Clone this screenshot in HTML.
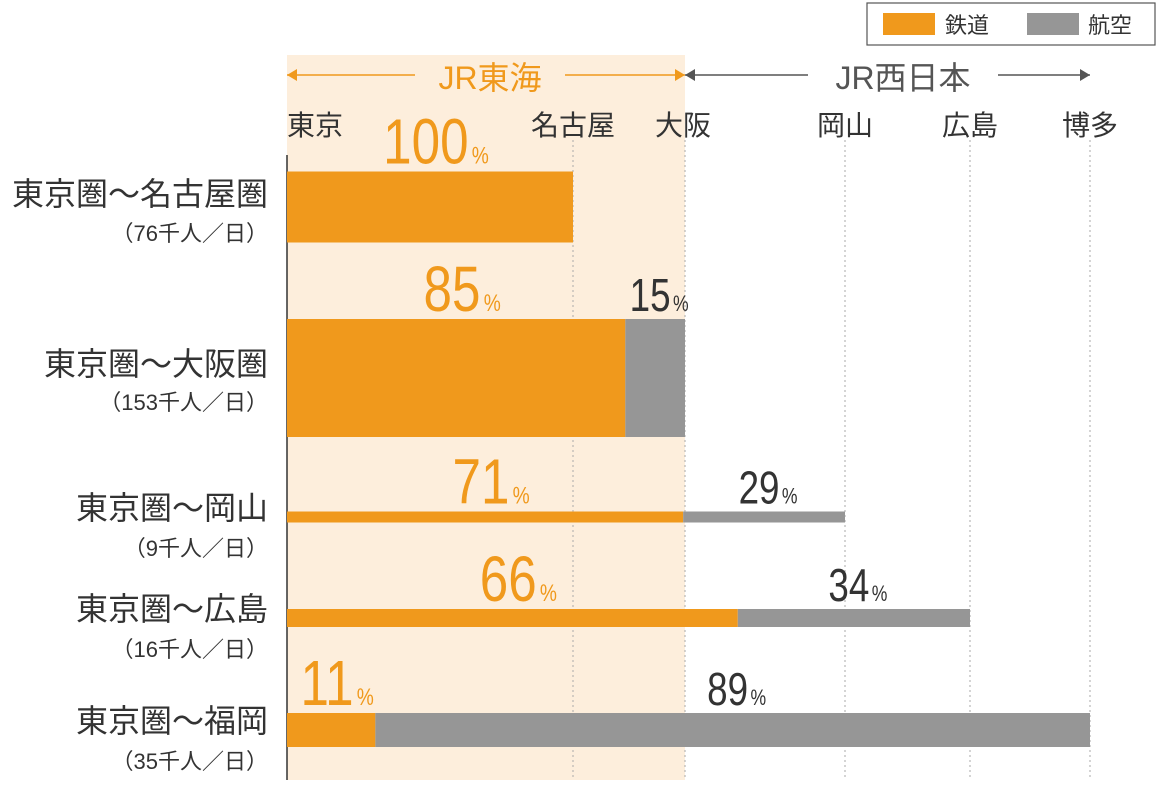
<!DOCTYPE html>
<html><head><meta charset="utf-8"><style>
body{margin:0;width:1160px;height:780px;background:#fff;overflow:hidden;font-family:"Liberation Sans","Noto Sans CJK JP",sans-serif}
svg text{font-family:"Liberation Sans","Noto Sans CJK JP",sans-serif}
</style></head><body>
<svg id="c" width="1160" height="780">
<rect x="287" y="55" width="398" height="725" fill="#fdeedc"/>
<g id="grid"></g>
<line x1="287" y1="155" x2="287" y2="780" stroke="#333" stroke-width="1.5"/>
<g id="hdr"></g>
<g id="bars"></g>
<g>
<rect x="867" y="3" width="288" height="42" fill="#fff" stroke="#555" stroke-width="1.2"/>
<rect x="883" y="13" width="52" height="22" fill="#f0991c"/>
<text x="945" y="33" font-size="22" fill="#333">鉄道</text>
<rect x="1027" y="13" width="52" height="22" fill="#969696"/>
<text x="1088" y="33" font-size="22" fill="#333">航空</text>
</g>
</svg>
<script>
const stations=["東京","名古屋","大阪","岡山","広島","博多"];
const stationX=[287,573,685,845,970,1090];
const routes=["東京圏〜名古屋圏","東京圏〜大阪圏","東京圏〜岡山","東京圏〜広島","東京圏〜福岡"];
const traffic=["76","153","9","16","35"];
const dest=[1,2,3,4,5];
const rail=[100,85,71,66,11];
const air=[0,15,29,34,89];
const centers=[207,378,517,618,730];
const thick=[71,118,11,18,34];
const NS="http://www.w3.org/2000/svg";
const svg=document.getElementById('c');
function mk(tag,attrs,parent,txt){const e=document.createElementNS(NS,tag);for(const k in attrs)e.setAttribute(k,attrs[k]);if(txt!==undefined)e.textContent=txt;parent.appendChild(e);return e;}
const grid=document.getElementById('grid'),hdr=document.getElementById('hdr'),bars=document.getElementById('bars');
function narrow(el,cx,s){el.setAttribute('transform',`translate(${cx},0) scale(${s},1) translate(${-cx},0)`);}
stations.forEach((s,i)=>{
  if(i>0){const l=mk('line',{x1:stationX[i],y1:140,x2:stationX[i],y2:780,stroke:'#aaa','stroke-dasharray':'2,3'},grid);
  
  }
  const t=mk('text',{x:stationX[i],y:135,'font-size':28,fill:'#333','text-anchor':i==2?'start':'middle'},hdr,s);
  if(i==0)t.setAttribute('x',315);
  if(i==2)t.setAttribute('x',655);
  
  
});
function arrow(x1,x2,col,left,right){
  mk('line',{x1:x1,y1:75,x2:x2,y2:75,stroke:col,'stroke-width':1.5},hdr);
  if(left)mk('path',{d:`M${x1} 75 l10 -6 v12z`,fill:col},hdr);
  if(right)mk('path',{d:`M${x2} 75 l-10 -6 v12z`,fill:col},hdr);
}
arrow(287,415,'#f0991c',true,false);arrow(565,685,'#f0991c',false,true);
arrow(685,808,'#555',true,false);arrow(998,1090,'#555',false,true);
let t1=mk('text',{x:490,y:89,'font-size':32,fill:'#f0991c','text-anchor':'middle'},hdr,'JR東海');


let t2=mk('text',{x:903,y:89,'font-size':32,fill:'#555','text-anchor':'middle'},hdr,'JR西日本');


const x0=287;
routes.forEach((r,i)=>{
  const xe=stationX[dest[i]],w=xe-x0,xr=x0+w*rail[i]/100;
  const y=centers[i]-thick[i]/2;
  const g=mk('g',{},bars);
  
  
  const b=mk('rect',{x:x0,y:y,width:xr-x0,height:thick[i],fill:'#f0991c'},g);
  
  
  if(air[i]>0){const a=mk('rect',{x:xr,y:y,width:xe-xr,height:thick[i],fill:'#969696'},g);
  
  }
  const ly=y-8;
  const rcx=(x0+xr)/2+6;
  const rl=mk('text',{x:rcx,y:ly,'font-size':64,fill:'#f0991c','text-anchor':'middle'},g);
  rl.innerHTML=rail[i]+'<tspan font-size="24" dx="4">%</tspan>';
  narrow(rl,rcx,0.8);
  
  
  if(air[i]>0){const acx=(xr+xe)/2+4;
  const al=mk('text',{x:acx,y:ly,'font-size':46,fill:'#333','text-anchor':'middle'},g);
  al.innerHTML=air[i]+'<tspan font-size="22" dx="3">%</tspan>';
  narrow(al,acx,0.8);
  
  }
  const c1=mk('text',{x:268,y:centers[i]+(i==0?-2:i==1?-3:2),'font-size':32,fill:'#333','text-anchor':'end'},g,r);
  
  
  const c2=mk('text',{x:268,y:centers[i]+(i==0?34:i==1?32:39),'font-size':22,fill:'#333','text-anchor':'end'},g,'（'+traffic[i]+'千人／日）');
  
  
});
</script>
</body></html>
